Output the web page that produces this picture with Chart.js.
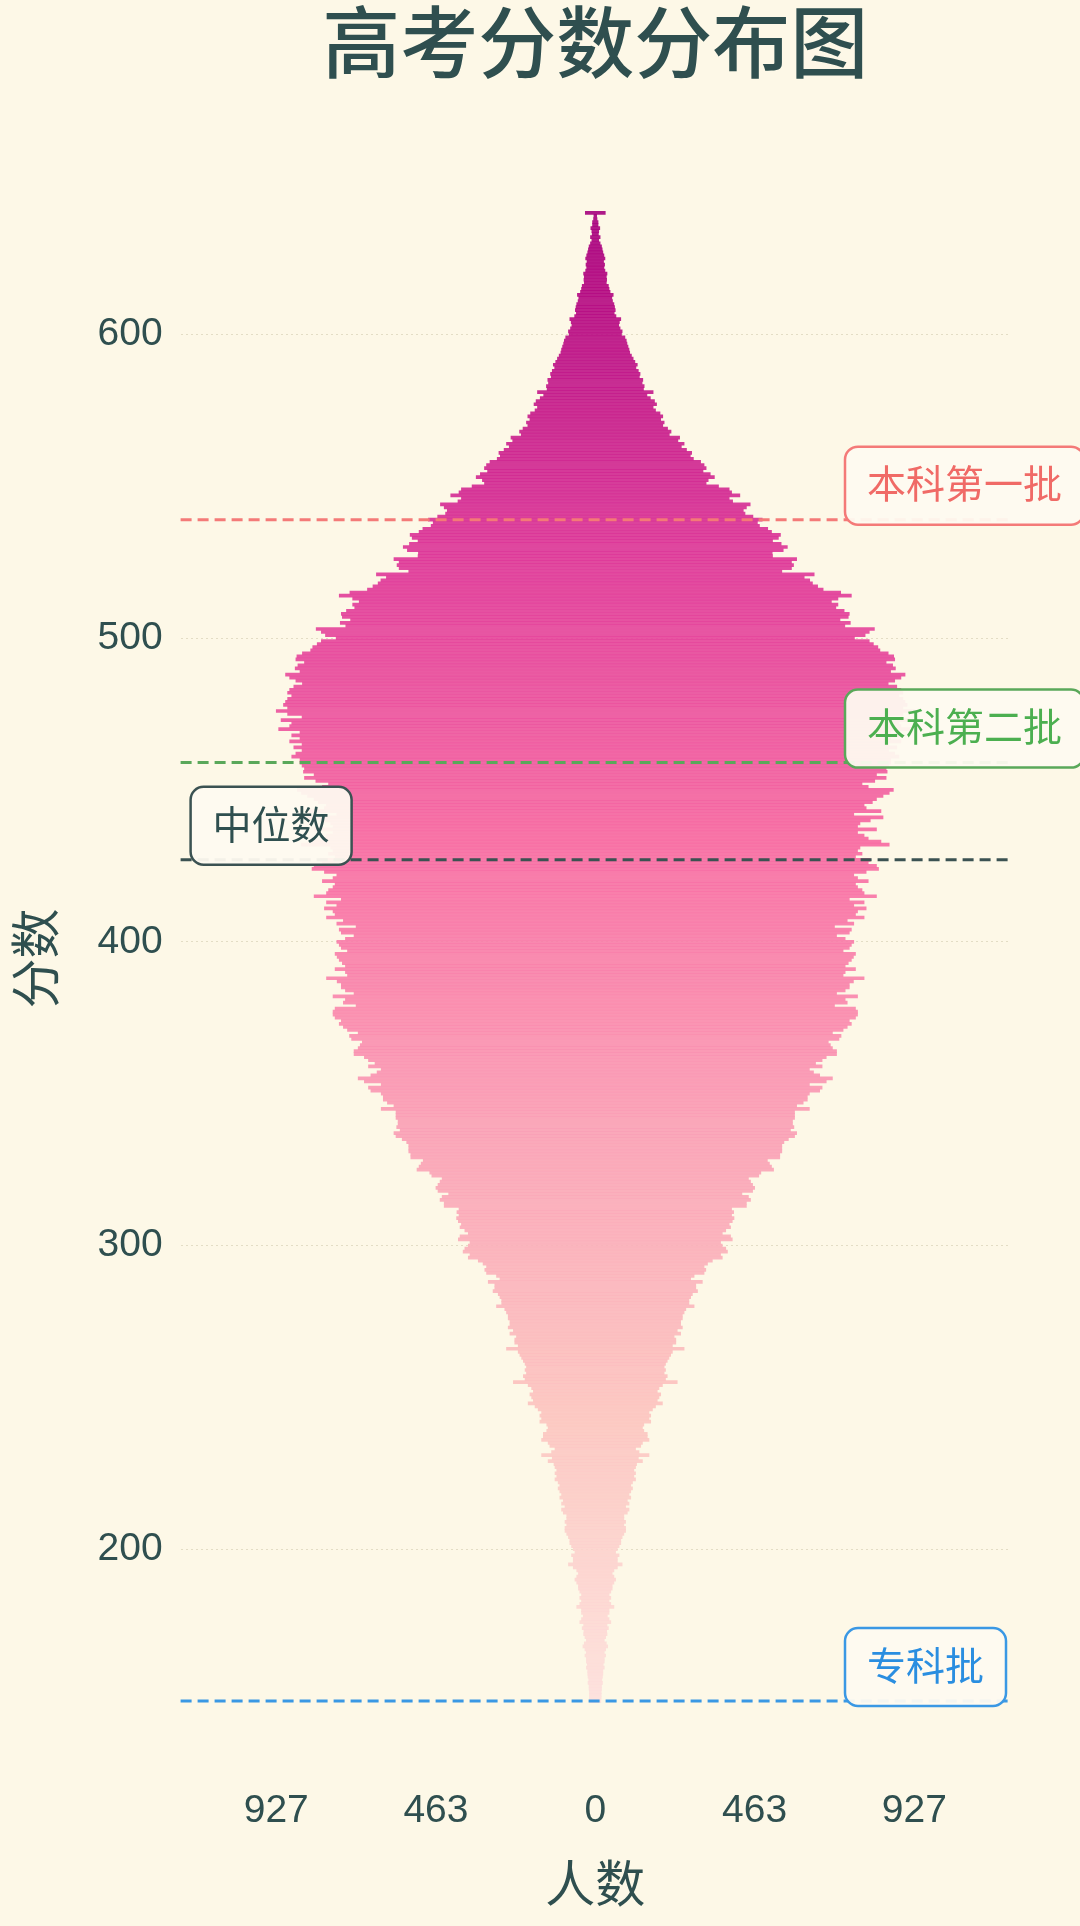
<!DOCTYPE html>
<html>
<head>
<meta charset="utf-8">
<script src="https://cdn.jsdelivr.net/npm/chart.js@4.4.1/dist/chart.umd.min.js"></script>
<style>
  html, body { margin: 0; padding: 0; background: #fdf8e7; }
  #wrap { width: 1080px; height: 1926px; position: relative; }
</style>
</head>
<body>
<div id="wrap"><canvas id="c"></canvas></div>
<script>
// ---------------- data ----------------
const chartTitle = '高考分数分布图';
const xTitle = '人数';
const yTitle = '分数';
const topScore = 640; // highest score row; rows go down one point at a time to 150
// number of candidates per score, from 640 down to 150
const counts = [
  29,4,5,8,8,13,10,9,14,10,
  14,18,20,22,25,28,24,27,25,28,
  34,32,33,32,38,40,43,52,48,50,
  54,56,58,55,60,74,70,68,72,78,
  76,86,90,92,95,98,100,105,110,115,
  122,118,125,130,128,138,136,142,140,168,
  150,160,172,178,168,175,188,196,190,200,
  196,210,220,215,245,240,258,250,265,280,
  276,285,306,316,322,313,334,346,328,322,
  358,389,396,420,389,399,450,439,430,435,
  458,485,471,477,501,512,538,532,515,540,
  558,546,514,515,585,570,576,570,542,636,
  607,623,631,646,662,713,744,705,686,705,
  699,723,738,735,711,741,725,811,796,784,
  753,796,808,821,827,851,867,870,845,864,
  872,858,900,888,870,851,876,888,894,882,
  894,900,906,894,927,894,852,913,882,888,
  920,858,882,858,888,852,876,852,870,882,
  858,858,852,845,848,817,845,812,775,793,
  866,854,836,817,805,781,787,830,751,836,
  799,769,762,817,762,781,793,830,854,769,
  762,775,756,799,793,817,823,787,751,762,
  793,756,762,775,781,817,738,781,751,787,
  762,756,781,732,751,695,744,738,701,726,
  751,744,738,720,756,750,744,735,726,756,
  726,720,781,750,738,738,726,701,762,726,
  732,695,756,762,762,756,738,744,732,720,
  689,714,708,677,683,689,701,701,671,659,
  640,659,622,634,652,689,671,622,659,652,
  622,616,616,604,585,622,579,579,579,573,
  573,577,567,585,579,561,548,542,542,542,
  536,536,500,506,512,518,481,475,445,451,
  457,463,457,426,445,451,439,439,396,402,
  396,403,398,389,393,379,369,393,398,364,
  369,379,384,364,369,340,326,316,321,316,
  287,277,311,292,292,297,282,277,272,272,
  287,263,258,253,253,248,248,253,238,248,
  229,234,234,224,258,224,219,214,209,204,
  200,204,200,209,204,238,195,185,180,190,
  185,180,195,175,166,156,161,156,161,141,
  137,141,151,151,156,137,132,117,127,156,
  125,137,120,117,112,117,112,117,108,103,
  108,103,98,103,93,98,88,98,93,83,
  83,88,83,88,88,83,78,74,74,69,
  64,59,69,64,64,78,64,54,49,54,
  59,54,49,49,45,40,45,40,45,54,
  40,40,35,40,45,34,38,33,34,30,
  26,32,36,30,26,30,26,26,23,26,
  22,22,21,19,21,18,18,17,17,17,
  16
];
const scores = counts.map((_, i) => topScore - i);
const yTicks = [200, 300, 400, 500, 600];
const xTicks = [-927, -463, 0, 463, 927];
const refLabels = ['本科第一批', '本科第二批', '中位数', '专科批'];
const refScores = [539, 459, 427, 150];

// ---------------- styles ----------------
const TXT = '#2f4f4f';
const FONT = '"Liberation Sans", "Noto Sans CJK SC", sans-serif';
const CJK = '"Noto Sans CJK SC", "Liberation Sans", sans-serif';
const refStyle = [
  { line: '#f47a78', text: '#f06a66', side: 'right' },
  { line: '#5aa85a', text: '#4caf50', side: 'right' },
  { line: '#3b5252', text: '#2f4f4f', side: 'left' },
  { line: '#3a98e4', text: '#2a8ee0', side: 'right' }
];
const RDPU = ['#fff7f3','#fde0dd','#fcc5c0','#fa9fb5','#f768a1','#dd3497','#ae017e','#7a0177','#49006a'];
function hexRgb(h) { return [1,3,5].map(k => parseInt(h.slice(k, k + 2), 16)); }
function rdpu(t, alpha) {
  t = Math.max(0, Math.min(1, t));
  const p = t * (RDPU.length - 1);
  const i = Math.min(Math.floor(p), RDPU.length - 2);
  const f = p - i;
  const a = hexRgb(RDPU[i]), b = hexRgb(RDPU[i + 1]);
  const c = a.map((v, k) => Math.round(v + (b[k] - v) * f));
  return `rgba(${c[0]},${c[1]},${c[2]},${alpha})`;
}
function colorFor(score) { return rdpu(0.13 + (score - 150) * 0.00131, 0.9); }

function roundRect(ctx, x, y, w, h, r) {
  ctx.beginPath();
  ctx.moveTo(x + r, y);
  ctx.lineTo(x + w - r, y);
  ctx.arcTo(x + w, y, x + w, y + r, r);
  ctx.lineTo(x + w, y + h - r);
  ctx.arcTo(x + w, y + h, x + w - r, y + h, r);
  ctx.lineTo(x + r, y + h);
  ctx.arcTo(x, y + h, x, y + h - r, r);
  ctx.lineTo(x, y + r);
  ctx.arcTo(x, y, x + r, y, r);
  ctx.closePath();
}

const decor = {
  id: 'decor',
  afterDatasetsDraw(chart) {
    const { ctx, chartArea: a, scales: { y } } = chart;
    // title
    ctx.save();
    ctx.fillStyle = TXT;
    ctx.font = `500 78px ${CJK}`;
    ctx.textAlign = 'center';
    ctx.textBaseline = 'middle';
    ctx.fillText(chartTitle, (a.left + a.right) / 2, 42);
    ctx.restore();
    // reference lines
    refScores.forEach((s, i) => {
      const py = y.getPixelForValue(s);
      ctx.save();
      ctx.strokeStyle = refStyle[i].line;
      ctx.lineWidth = 3;
      ctx.setLineDash([11, 6]);
      ctx.beginPath();
      ctx.moveTo(a.left, py);
      ctx.lineTo(a.right, py);
      ctx.stroke();
      ctx.restore();
    });
    // label boxes
    refScores.forEach((s, i) => {
      const py = y.getPixelForValue(s);
      ctx.save();
      ctx.font = `39px ${CJK}`;
      const tw = ctx.measureText(refLabels[i]).width;
      const bw = tw + 44, bh = 78;
      const bx = refStyle[i].side === 'right' ? a.right - 165 : a.left + 10;
      const by = py + 5 - bh;
      roundRect(ctx, bx, by, bw, bh, 13);
      ctx.fillStyle = 'rgba(254,250,240,0.95)';
      ctx.fill();
      ctx.lineWidth = 2.5;
      ctx.strokeStyle = refStyle[i].line;
      ctx.stroke();
      ctx.fillStyle = refStyle[i].text;
      ctx.textAlign = 'center';
      ctx.textBaseline = 'middle';
      ctx.fillText(refLabels[i], bx + bw / 2, by + bh / 2 - 2);
      ctx.restore();
    });
  }
};

new Chart(document.getElementById('c'), {
  type: 'bar',
  data: {
    datasets: [{
      data: counts.map((c, i) => ({ y: scores[i], x: [-c, c] })),
      backgroundColor: scores.map(colorFor),
      borderWidth: 0,
      barPercentage: 1,
      categoryPercentage: 1
    }]
  },
  options: {
    indexAxis: 'y',
    responsive: true,
    maintainAspectRatio: false,
    animation: false,
    layout: { padding: { left: 0, right: 70, top: 137, bottom: 0 } },
    plugins: { legend: { display: false }, tooltip: { enabled: false }, title: { display: false } },
    scales: {
      x: {
        type: 'linear',
        min: -1205, max: 1205,
        offset: false,
        afterBuildTicks: s => { s.ticks = xTicks.map(v => ({ value: v })); },
        afterFit: s => { s.height = 146; },
        grid: { display: false, drawTicks: false, offset: false },
        border: { display: false },
        ticks: { color: TXT, font: { family: FONT, size: 39 }, padding: 8, callback: v => String(Math.abs(v)), maxRotation: 0 },
        title: { display: true, text: xTitle, color: TXT, font: { family: CJK, size: 50 }, padding: { top: 0, bottom: 13 } }
      },
      y: {
        type: 'linear',
        min: 124, max: 665,
        offset: false,
        afterBuildTicks: s => { s.ticks = yTicks.map(v => ({ value: v })); },
        afterFit: s => { s.width = 180.6; },
        grid: { color: 'rgba(205,198,170,0.55)', lineWidth: 1, drawTicks: false, offset: false },
        border: { display: false, dash: [2, 3] },
        ticks: { color: TXT, font: { family: FONT, size: 39 }, padding: 18 },
        title: { display: true, text: yTitle, color: TXT, font: { family: CJK, size: 50 }, padding: { top: 5, bottom: 0 } }
      }
    }
  },
  plugins: [decor]
});
</script>
</body>
</html>
